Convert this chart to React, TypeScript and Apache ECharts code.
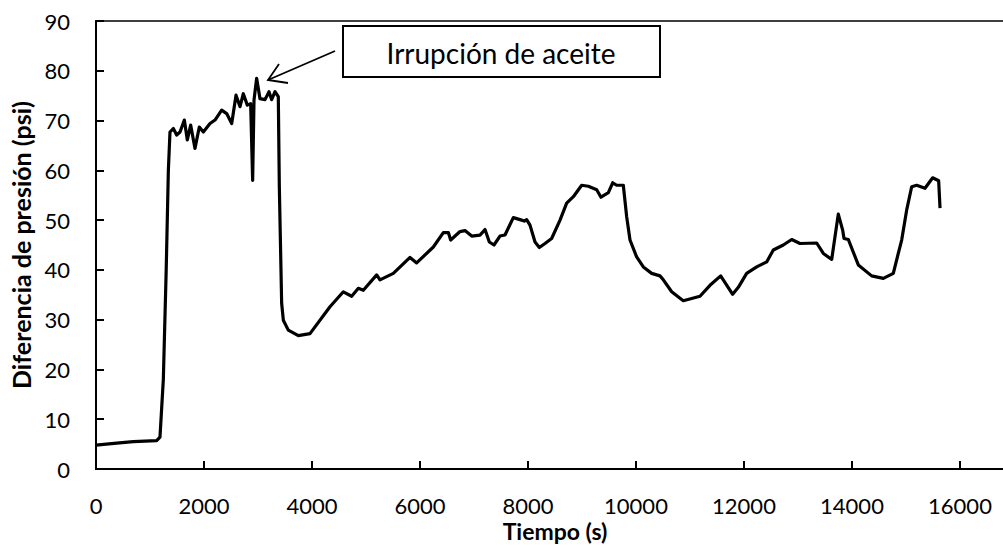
import React, { useEffect, useRef } from "react";
import * as echarts from "echarts";

const timeS: number[] = [
  0, 383, 691, 1123, 1185, 1247, 1300, 1340, 1370, 1432, 1494, 1556, 1636, 1691, 1753, 1833, 1913, 1988, 2111,
  2204, 2327, 2420, 2513, 2593, 2667, 2728, 2802, 2864, 2901, 2926, 2975, 3037, 3130, 3204, 3253, 3315, 3376,
  3395, 3438, 3469, 3561, 3747, 3963, 4333, 4580, 4735, 4858, 4950, 5198, 5259, 5506, 5815, 5938, 6247,
  6432, 6525, 6568, 6741, 6833, 6957, 7111, 7204, 7284, 7370, 7481, 7574, 7728, 7852, 7932, 7975, 8037, 8130,
  8210, 8315, 8438, 8593, 8716, 8840, 8994, 9117, 9272, 9352, 9488, 9568, 9642, 9765, 9827, 9889, 10012, 10136,
  10290, 10444, 10506, 10661, 10815, 10876, 11185, 11370, 11568, 11790, 11895, 12049, 12235, 12420, 12543, 12728,
  12883, 13037, 13346, 13469, 13624, 13746, 13827, 13852, 13932, 14117, 14364, 14580, 14765, 14857, 14920, 15012,
  15105, 15198, 15352, 15494, 15605, 15630,
];

const pressureDiff: number[] = [
  4.8, 5.2, 5.5, 5.7, 6.4, 18, 40, 60, 67.7, 68.4, 67.1, 67.7, 70.1, 66.1, 69.1, 64.4, 68.7, 67.7, 69.4,
  70.1, 72.1, 71.4, 69.4, 75.1, 72.8, 75.4, 73.1, 73.4, 58.0, 74.1, 78.5, 74.4, 74.2, 75.8, 74.2, 75.8, 74.8,
  56.7, 33.3, 29.9, 27.9, 26.8, 27.2, 32.6, 35.6, 34.7, 36.3, 35.9, 39.0, 38.0, 39.3, 42.5, 41.4, 44.6,
  47.5, 47.5, 46.0, 47.7, 47.9, 46.8, 47.0, 48.1, 45.6, 45.0, 46.8, 47.0, 50.5, 50.1, 49.8, 50.1, 49.0, 45.6,
  44.5, 45.3, 46.3, 50.0, 53.4, 54.7, 57.0, 56.8, 56.1, 54.6, 55.5, 57.5, 57.0, 57.0, 50.7, 46.0, 42.6, 40.6,
  39.3, 38.8, 38.0, 35.6, 34.3, 33.8, 34.7, 36.9, 38.8, 35.1, 36.5, 39.3, 40.6, 41.6, 44.0, 45.0,
  46.1, 45.3, 45.4, 43.3, 42.1, 51.2, 48.0, 46.3, 46.1, 41.0, 38.8, 38.3, 39.3, 43.3, 46.0, 52.0,
  56.7, 57.0, 56.4, 58.5, 57.9, 52.4,
];

const xTitle = "Tiempo (s)";
const yTitle = "Diferencia de presión (psi)";
const annotationText = "Irrupción de aceite";

const FONT = "Lato";

export default function App() {
  const ref = useRef<HTMLDivElement>(null);
  useEffect(() => {
    if (!ref.current) return;
    const chart = echarts.init(ref.current, undefined, { renderer: "svg" });
    const data = timeS.map((t, i) => [t, pressureDiff[i]]);
    chart.setOption({
      animation: false,
      backgroundColor: "#fff",
      grid: {
        left: 96,
        top: 21,
        right: 32,
        bottom: 77,
        show: true,
        borderColor: "#000",
        borderWidth: 1.5,
      },
      xAxis: {
        type: "value",
        min: 0,
        max: 18000,
        interval: 2000,
        axisLine: { show: true, onZero: false, lineStyle: { color: "#000", width: 2 } },
        axisTick: { show: true, inside: true, length: 8, lineStyle: { color: "#000", width: 2 } },
        axisLabel: {
          color: "#000",
          fontSize: 22,
          fontFamily: FONT,
          margin: 25,
          showMaxLabel: false,
          formatter: (v: number) => (v >= 18000 ? "" : String(v)),
        },
        splitLine: { show: false },
      },
      yAxis: {
        type: "value",
        min: 0,
        max: 90,
        interval: 10,
        name: yTitle,
        nameLocation: "middle",
        nameGap: 62,
        nameTextStyle: { color: "#000", fontSize: 25, fontWeight: "bold", fontFamily: FONT },
        axisLine: { show: true, lineStyle: { color: "#000", width: 2 } },
        axisTick: { show: true, inside: true, length: 8, lineStyle: { color: "#000", width: 2 } },
        axisLabel: { color: "#000", fontSize: 22, fontFamily: FONT, margin: 26 },
        splitLine: { show: false },
      },
      series: [
        {
          type: "line",
          data,
          showSymbol: false,
          symbol: "none",
          lineStyle: { color: "#000", width: 3.2, join: "round" },
          smooth: false,
        },
      ],
      graphic: [
        {
          type: "text",
          x: 555,
          y: 531,
          style: {
            text: xTitle,
            fill: "#000",
            font: `bold 23px ${FONT}`,
            align: "center",
            verticalAlign: "middle",
          },
        },
        {
          type: "rect",
          shape: { x: 343, y: 26, width: 317, height: 51 },
          style: { fill: "#fff", stroke: "#000", lineWidth: 2 },
          z: 100,
        },
        {
          type: "text",
          x: 501,
          y: 53,
          style: {
            text: annotationText,
            fill: "#000",
            font: `28px ${FONT}`,
            align: "center",
            verticalAlign: "middle",
          },
          z: 101,
        },
        {
          type: "line",
          shape: { x1: 335, y1: 51, x2: 268, y2: 80 },
          style: { stroke: "#000", lineWidth: 1.8 },
          z: 100,
        },
        {
          type: "polyline",
          shape: { points: [[279, 64], [268, 80], [288, 83]] },
          style: { stroke: "#000", lineWidth: 1.8, fill: "none" },
          z: 100,
        },
      ],
    });
    return () => chart.dispose();
  }, []);
  return (
    <div
      style={{
        position: "absolute",
        left: 0,
        top: 0,
        width: 1003,
        height: 546,
        overflow: "hidden",
        background: "#fff",
      }}
    >
      <div ref={ref} style={{ width: 1100, height: 546 }} />
    </div>
  );
}
